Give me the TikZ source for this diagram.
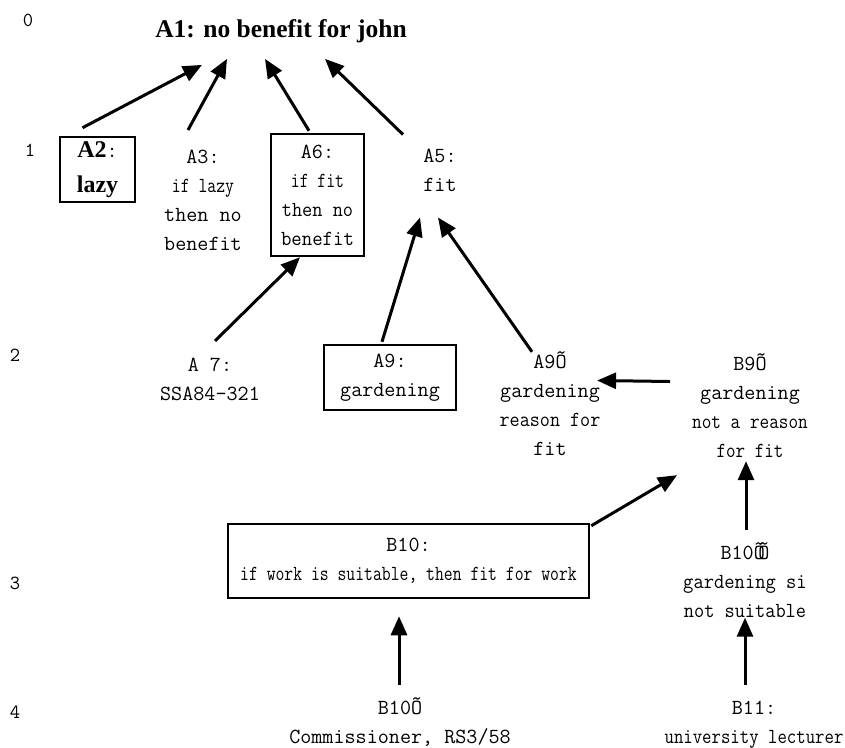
\documentclass[tikz,border=0pt]{standalone}
\usepackage{fontspec}
\usepackage{graphicx}
\newfontfamily\claimfont{Liberation Serif}
\usetikzlibrary{arrows.meta, positioning}

\newcommand{\tight}[2]{\scalebox{#1}[1]{#2}}

\begin{document}
\begin{tikzpicture}[
      x=1pt, y=-1pt,
      claim/.style={
          font=\claimfont\bfseries\fontsize{25.5}{28}\selectfont,
          inner xsep=0pt,
          inner ysep=16pt
        },
      arg/.style={
          font=\ttfamily\fontsize{21.5}{29}\selectfont,
          align=center,
          inner sep=0pt
        },
      argbox/.style={
          arg,
          draw,
          line width=2.5pt
        },
      rownum/.style={font=\ttfamily\fontsize{20}{20}\selectfont},
      attack/.style={-{Triangle[length=19pt, width=16pt]}, line width=3pt}
    ]
    \useasboundingbox (0,0) rectangle (845,747);

    % dialogue levels
    \foreach \lvl/\xpos/\ypos in {0/28/20, 1/30/150, 2/15/355, 3/15/583, 4/15/712}
      \node[rownum] (level\lvl) at (\xpos,\ypos) {\lvl};

    % levels 0 and 1
    \node[claim] (a1) at (281,31) {A1: no benefit for john};
    \node[argbox, minimum width=75pt, minimum height=65pt,
      font=\claimfont\bfseries\fontsize{24}{35}\selectfont] (a2) at (97.5,169.5)
      {A2{\ttfamily\mdseries\fontsize{21.5}{29}\selectfont:}\\lazy};
    \node[arg] (a3) at (203,200) {A3:\\\tight{0.8}{if lazy}\\then no\\benefit};
    \node[argbox, minimum width=93pt, minimum height=122pt] (a6) at (317.5,195)
      {A6:\\\tight{0.8}{if fit}\\\tight{0.92}{then no}\\\tight{0.94}{benefit}};
    \node[arg] (a5) at (440,170.5) {A5:\\fit};

    % level 2
    \node[arg] (a7) at (210,379) {A 7:\\SSA84-321};
    \node[argbox, minimum width=132pt, minimum height=65pt] (a9) at (390,377.5) {A9:\\gardening};
    \node[arg] (a9p) at (550,404) {A9Õ\\gardening\\\tight{0.91}{reason for}\\fit};
    \node[arg] (b9p) at (750,406) {B9Õ\\gardening\\\tight{0.87}{not a reason}\\\tight{0.86}{for fit}};

    % levels 3 and 4
    \node[argbox, minimum width=361pt, minimum height=74pt] (b10) at (408.5,561)
      {B10:\\\tight{0.8}{if work is suitable, then fit for work}};
    \node[arg] (b10pp) at (745,580) {B10Õ\kern-0.3emÕ\\\tight{0.93}{gardening si}\\\tight{0.92}{not suitable}};
    \node[arg] (b10p) at (400,722) {B10Õ\\Commissioner, RS3/58};
    \node[arg] (b11) at (754,725) {B11:\\\tight{0.85}{university lecturer}};

    % attacks
    \draw[attack] ([shift={(-15,-8)}]a2.north) -- ([shift={(-79,6)}]a1.south);
    \draw[attack] ([shift={(-15,-19.5)}]a3.north) -- ([xshift=-54pt]a1.south);
    \draw[attack] ([shift={(-8.5,-2)}]a6.north) -- ([xshift=-16pt]a1.south);
    \draw[attack] ([shift={(-37,-14.5)}]a5.north) -- ([xshift=44pt]a1.south);
    \draw[attack] ([shift={(5,-16.5)}]a7.north) -- ([xshift=-17.5pt]a6.south);
    \draw[attack] ([shift={(-8,-2)}]a9.north) -- ([shift={(-20,25.5)}]a5.south);
    \draw[attack] ([shift={(-18,0)}]a9p.north) -- ([shift={(-2,25.5)}]a5.south);
    \draw[attack] ([shift={(-22,-24.5)}]b9p.west) -- ([shift={(-3.5,-23.5)}]a9p.east);
    \draw[attack] ([shift={(1,3)}]b10.north east) -- ([shift={(-73,17)}]b9p.south);
    \draw[attack] ([shift={(1,-12.5)}]b10pp.north) -- ([shift={(-4,3)}]b9p.south);
    \draw[attack] ([shift={(-1,-12.5)}]b10p.north) -- ([shift={(-9.5,17)}]b10.south);
    \draw[attack] ([shift={(-9,-16.5)}]b11.north) -- (b10pp.south);
  \end{tikzpicture}
\end{document}
